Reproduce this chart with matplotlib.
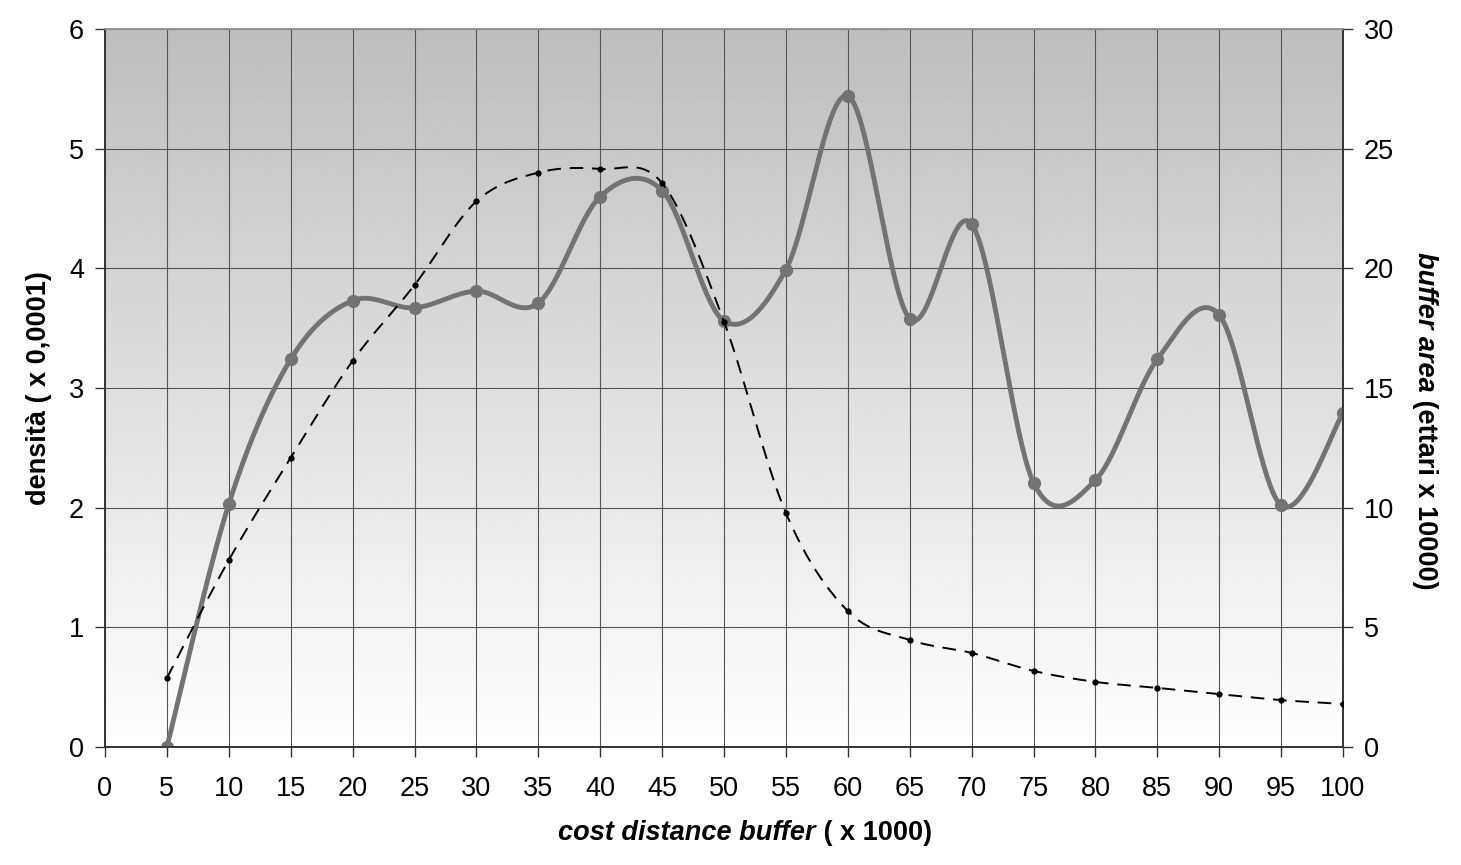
import numpy as np
import matplotlib
matplotlib.use("Agg")
import matplotlib.pyplot as plt

plt.rcParams['font.family'] = ['Liberation Sans', 'DejaVu Sans']

# dati
buffer_km = [5, 10, 15, 20, 25, 30, 35, 40, 45, 50, 55, 60, 65, 70, 75, 80, 85, 90, 95, 100]
densita = [0.0, 2.03, 3.24, 3.73, 3.67, 3.81, 3.71, 4.60, 4.65, 3.56,
           3.99, 5.44, 3.58, 4.37, 2.21, 2.23, 3.24, 3.61, 2.02, 2.79]
area = [2.88, 7.81, 12.08, 16.13, 19.3, 22.8, 24.0, 24.15, 23.56, 17.77,
        9.78, 5.68, 4.47, 3.93, 3.18, 2.72, 2.47, 2.21, 1.96, 1.80]
x_ticks = list(range(0, 101, 5))
y_left_ticks = list(range(0, 7))
y_right_ticks = list(range(0, 31, 5))

FS = 19.5


def smooth(xs, ys, n=40):
    # curva tipo "linea smussata" di Excel (Bezier / Catmull-Rom)
    p = np.column_stack([xs, ys]).astype(float)
    p = np.vstack([p[0], p, p[-1]])
    out = []
    t = np.linspace(0, 1, n)[:, None]
    for i in range(1, len(p) - 2):
        p0, p1, p2, p3 = p[i - 1], p[i], p[i + 1], p[i + 2]
        c1 = p1 + (p2 - p0) / 6
        c2 = p2 - (p3 - p1) / 6
        seg = ((1 - t) ** 3) * p1 + 3 * ((1 - t) ** 2) * t * c1 + 3 * (1 - t) * t ** 2 * c2 + t ** 3 * p2
        out.append(seg if i == 1 else seg[1:])
    s = np.vstack(out)
    return s[:, 0], s[:, 1]


fig = plt.figure(figsize=(14.61, 8.65), dpi=100)
ax = fig.add_axes([105 / 1461, 1 - 747 / 865, (1343 - 105) / 1461, (747 - 29) / 865])
ax2 = ax.twinx()

# sfondo sfumato: scuro in alto, bianco in basso
grad = np.linspace(1, 0, 256)[:, None]
ax.imshow(grad, extent=[0, 100, 0, 6], aspect='auto', cmap='gray',
          vmin=-2.9, vmax=1.0, origin='lower', zorder=0, interpolation='bilinear')
ax.set_xlim(0, 100)
ax.set_ylim(0, 6)
ax2.set_ylim(0, 30)

ax.set_xticks(x_ticks)
ax.set_yticks(y_left_ticks)
ax2.set_yticks(y_right_ticks)
ax.grid(True, color='#555555', linewidth=0.8, zorder=1)
ax.set_axisbelow(False)

for a in (ax, ax2):
    a.tick_params(labelsize=FS, length=7, width=1, color='#333333', pad=8)
    for sp in a.spines.values():
        sp.set_color('#333333')
        sp.set_linewidth(1.2)
ax.tick_params(axis='x', pad=14)
ax.spines['top'].set_color('#999999')
ax2.spines['top'].set_color('#999999')

sx, sy = smooth(buffer_km, densita)
ax.plot(sx, sy, color='#737373', linewidth=3.5, zorder=3, solid_capstyle='round')
ax.plot(buffer_km, densita, 'o', color='#737373', markersize=8.5, zorder=4)

bx, by = smooth(buffer_km, area)
ax2.plot(bx, by, color='black', linewidth=1.4, dashes=(7, 4.5), zorder=3)
ax2.plot(buffer_km, area, 'o', color='black', markersize=3.5, zorder=4)

ax.set_ylabel('densità ( x 0,0001)', fontsize=FS, fontweight='bold', labelpad=12)

# etichette con parti in corsivo
fig.canvas.draw()
r = fig.canvas.get_renderer()
ylab = 1 - 833 / 865
t1 = fig.text(0, ylab, 'cost distance buffer', fontsize=FS, fontweight='bold',
              fontstyle='italic', va='center', ha='left')
t2 = fig.text(0, ylab, ' ( x 1000)', fontsize=FS, fontweight='bold', va='center', ha='left')
w1 = t1.get_window_extent(r).width
w2 = t2.get_window_extent(r).width
x0 = (745 - (w1 + w2) / 2) / 1461
t1.set_x(x0)
t2.set_x(x0 + w1 / 1461)

r1 = fig.text(1425 / 1461, 0, 'buffer area', fontsize=FS, fontweight='bold',
              fontstyle='italic', rotation=270, ha='center', va='top')
r2 = fig.text(1425 / 1461, 0, ' (ettari x 10000)', fontsize=FS, fontweight='bold',
              rotation=270, ha='center', va='top')
h1 = r1.get_window_extent(r).height
h2 = r2.get_window_extent(r).height
ytop = 865 - (421 - (h1 + h2) / 2)
r1.set_y(ytop / 865)
r2.set_y((ytop - h1) / 865)

fig.savefig('out.png', dpi=100)
